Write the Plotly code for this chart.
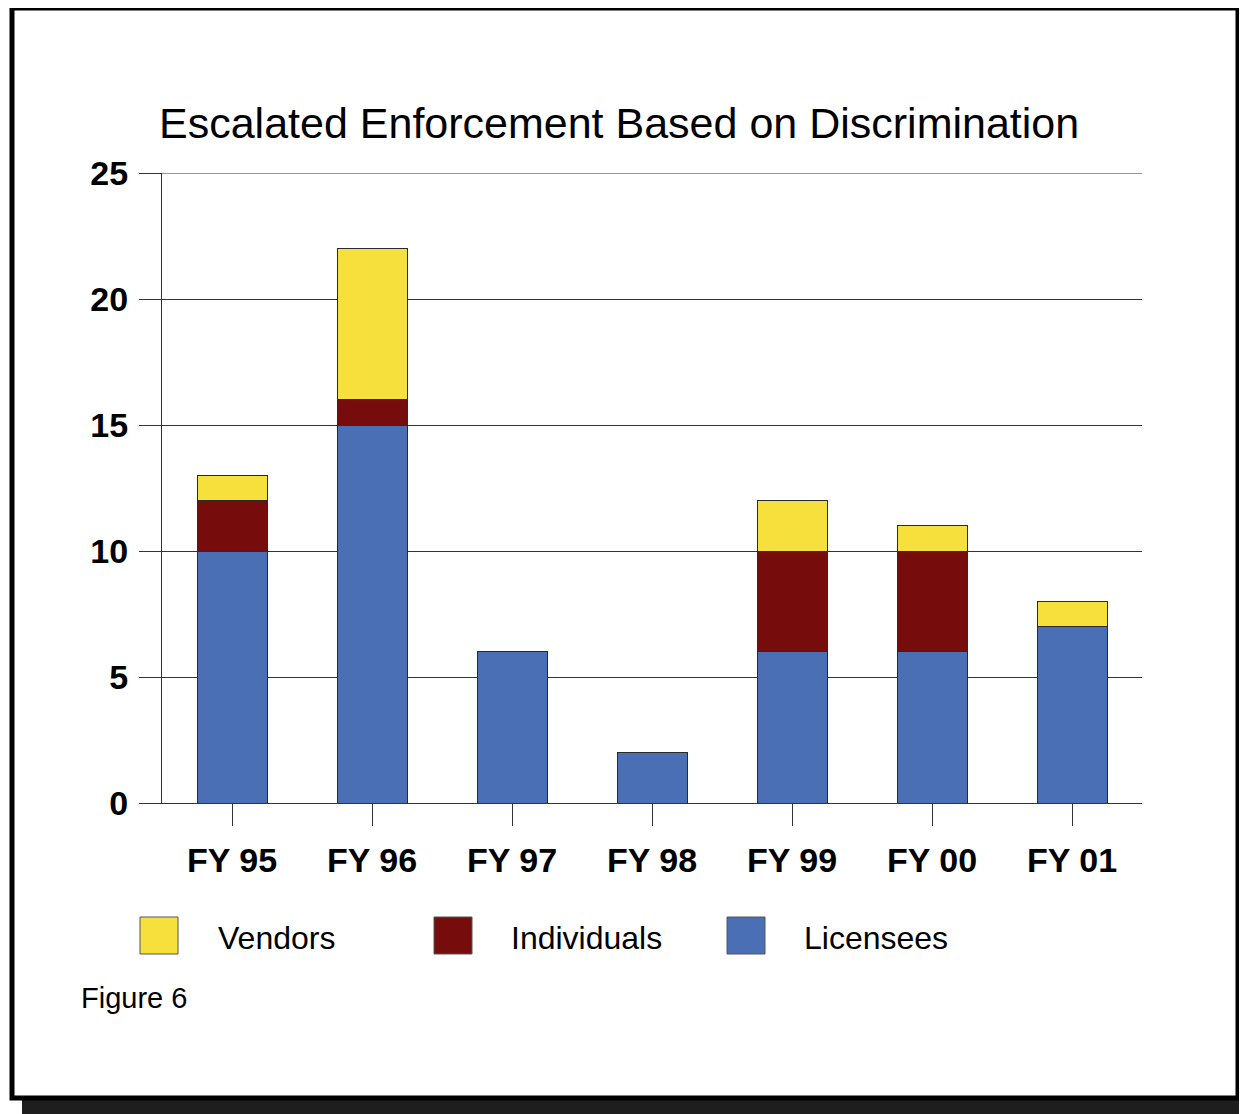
import plotly.graph_objects as go

years = ["FY 95", "FY 96", "FY 97", "FY 98", "FY 99", "FY 00", "FY 01"]
licensees = [10, 15, 6, 2, 6, 6, 7]
individuals = [2, 1, 0, 0, 4, 4, 0]
vendors = [1, 6, 0, 0, 2, 1, 1]

colors = {"Licensees": "#4A6FB5", "Individuals": "#760C0C", "Vendors": "#F6E03C"}

OFF = 8  # page body margin
W, H = 1247 - OFF, 1114 - OFF
L, R, T, B = 162 - OFF, 1142 - OFF, 173 - OFF, 803 - OFF

fig = go.Figure()
for name, vals in [("Licensees", licensees), ("Individuals", individuals), ("Vendors", vendors)]:
    fig.add_trace(go.Bar(x=years, y=vals, name=name, marker_color=colors[name],
                         marker_line_color="#2a2a2a", marker_line_width=1, width=0.5,
                         showlegend=False))

def px_x(p):
    return (p - OFF - L) / (R - L)

def px_y(p):
    return (B - (p - OFF)) / (B - T)

shapes = []
shapes.append(dict(type="rect", xref="paper", yref="paper", x0=px_x(22), x1=px_x(1260),
                   y0=px_y(1130), y1=px_y(22), fillcolor="#1e1e1e", line_width=0, layer="below"))
shapes.append(dict(type="rect", xref="paper", yref="paper", x0=px_x(12), x1=px_x(1238),
                   y0=px_y(1098), y1=px_y(8), fillcolor="white",
                   line=dict(color="black", width=5), layer="below"))
shapes.append(dict(type="line", xref="paper", yref="y", x0=0, x1=1, y0=25, y1=25,
                   line=dict(color="#333333", width=1)))

FONT = "Liberation Sans, Arial"
annotations = [dict(text="Escalated Enforcement Based on Discrimination", xref="paper", yref="paper",
                    x=px_x(157), y=px_y(123), xanchor="left", yanchor="middle", showarrow=False,
                    font=dict(family=FONT, size=43, color="black")),
               dict(text="Figure 6", xref="paper", yref="paper", x=px_x(79), y=px_y(998),
                    xanchor="left", yanchor="middle", showarrow=False,
                    font=dict(family=FONT, size=29, color="black"))]

legend_pos = [("Vendors", 140, 216), ("Individuals", 434, 509), ("Licensees", 727, 802)]
for name, sx, tx in legend_pos:
    shapes.append(dict(type="rect", xref="paper", yref="paper", x0=px_x(sx), x1=px_x(sx + 38),
                       y0=px_y(954), y1=px_y(917), fillcolor=colors[name],
                       line=dict(color="#555555", width=1)))
    annotations.append(dict(text=name, xref="paper", yref="paper", x=px_x(tx), y=px_y(938),
                            xanchor="left", yanchor="middle", showarrow=False,
                            font=dict(family=FONT, size=32, color="black")))

fig.update_layout(
    barmode="stack", width=W, height=H,
    margin=dict(l=L, r=W - R, t=T, b=H - B, autoexpand=False),
    paper_bgcolor="white", plot_bgcolor="rgba(0,0,0,0)",
    shapes=shapes, annotations=annotations, showlegend=False,
    font=dict(family=FONT, color="black"),
)
fig.update_yaxes(range=[0, 25], tickvals=[0, 5, 10, 15, 20, 25], showgrid=True,
                 gridcolor="#333333", gridwidth=1, zeroline=False, showline=True,
                 linecolor="#333333", linewidth=1, ticks="outside", ticklen=22,
                 tickcolor="#333333", ticklabelstandoff=4,
                 tickfont=dict(size=34, family=FONT, weight="bold"))
fig.update_xaxes(showline=True, linecolor="#333333", linewidth=1, ticks="outside", ticklen=22,
                 tickcolor="#333333", ticklabelstandoff=5, showgrid=False,
                 tickfont=dict(size=34, family=FONT, weight="bold"))

fig.write_html("out.html")
